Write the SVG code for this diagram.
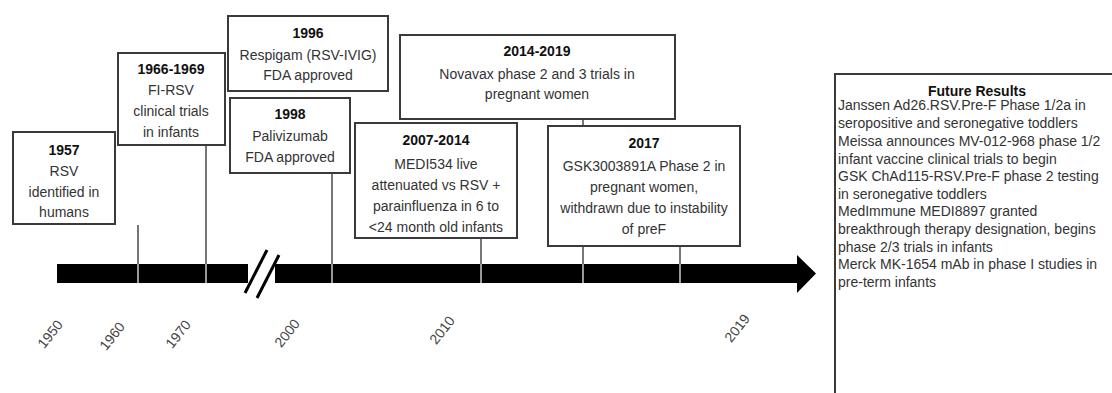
<svg xmlns="http://www.w3.org/2000/svg" width="1112" height="393" viewBox="0 0 1112 393">
<style>
text{font-family:"Liberation Sans",Arial,sans-serif;font-size:14px;fill:#333}
.c{text-anchor:middle}
.b{font-weight:bold;fill:#111}
.box{fill:#fff;stroke:#3a3a3a;stroke-width:2}
.con{stroke:#555;stroke-width:1.6;fill:none}
.sep{stroke:#ccc;stroke-width:1.5}
.yr{text-anchor:middle;fill:#444}
</style>
<rect width="1112" height="393" fill="#fff"/>
<g id="connectors">
<line class="con" x1="138" y1="225" x2="138" y2="265"/>
<line class="con" x1="206" y1="145" x2="206" y2="265"/>
<line class="con" x1="332" y1="173" x2="332" y2="265"/>
<line class="con" x1="481" y1="238" x2="481" y2="265"/>
<line class="con" x1="583" y1="119" x2="583" y2="265"/>
<line class="con" x1="680" y1="246" x2="680" y2="265"/>
</g>
<g id="timeline">
<rect x="57" y="264" width="191" height="19" fill="#000"/>
<polygon points="275,264 797,264 797,255 816,273.5 797,293 797,283 275,283" fill="#000"/>
<line x1="245" y1="293" x2="267" y2="250" stroke="#000" stroke-width="3"/>
<line x1="257" y1="298" x2="279" y2="255" stroke="#000" stroke-width="3"/>
<line class="sep" x1="138" y1="264" x2="138" y2="283"/>
<line class="sep" x1="206" y1="264" x2="206" y2="283"/>
<line class="sep" x1="332" y1="264" x2="332" y2="283"/>
<line class="sep" x1="481" y1="264" x2="481" y2="283"/>
<line class="sep" x1="583" y1="264" x2="583" y2="283"/>
<line class="sep" x1="680" y1="264" x2="680" y2="283"/>
</g>
<g id="axis-labels">
<text class="yr" transform="translate(50,334) rotate(-52)" y="5">1950</text>
<text class="yr" transform="translate(112,336) rotate(-52)" y="5">1960</text>
<text class="yr" transform="translate(178,334) rotate(-52)" y="5">1970</text>
<text class="yr" transform="translate(287,333) rotate(-52)" y="5">2000</text>
<text class="yr" transform="translate(442,330) rotate(-52)" y="5">2010</text>
<text class="yr" transform="translate(737,328) rotate(-52)" y="5">2019</text>
</g>
<g id="n1957">
<rect class="box" x="13" y="132" width="102" height="92"/>
<text class="c b" x="64" y="155">1957</text>
<text class="c" x="64" y="176">RSV</text>
<text class="c" x="64" y="197">identified in</text>
<text class="c" x="64" y="217">humans</text>
</g>
<g id="n1966">
<rect class="box" x="118" y="53" width="107" height="92"/>
<text class="c b" x="171" y="74">1966-1969</text>
<text class="c" x="171" y="95">FI-RSV</text>
<text class="c" x="171" y="116">clinical trials</text>
<text class="c" x="171" y="137">in infants</text>
</g>
<g id="n1996">
<rect class="box" x="228" y="16" width="160" height="75"/>
<text class="c b" x="308" y="38">1996</text>
<text class="c" x="308" y="60">Respigam (RSV-IVIG)</text>
<text class="c" x="308" y="80">FDA approved</text>
</g>
<g id="n1998">
<rect class="box" x="230" y="98" width="120" height="75"/>
<text class="c b" x="290" y="119">1998</text>
<text class="c" x="290" y="141">Palivizumab</text>
<text class="c" x="290" y="162">FDA approved</text>
</g>
<g id="n2014">
<rect class="box" x="400" y="35" width="275" height="84"/>
<text class="c b" x="537" y="56">2014-2019</text>
<text class="c" x="537" y="79">Novavax phase 2 and 3 trials in</text>
<text class="c" x="537" y="99">pregnant women</text>
</g>
<g id="n2007">
<rect class="box" x="355" y="123" width="162" height="115"/>
<text class="c b" x="436" y="145">2007-2014</text>
<text class="c" x="436" y="169">MEDI534 live</text>
<text class="c" x="436" y="190">attenuated vs RSV +</text>
<text class="c" x="436" y="211">parainfluenza in 6 to</text>
<text class="c" x="436" y="232">&lt;24 month old infants</text>
</g>
<g id="n2017">
<rect class="box" x="548" y="126" width="192" height="120"/>
<text class="c b" x="644" y="148">2017</text>
<text class="c" x="644" y="171">GSK3003891A Phase 2 in</text>
<text class="c" x="644" y="192">pregnant women,</text>
<text class="c" x="644" y="213">withdrawn due to instability</text>
<text class="c" x="644" y="234">of preF</text>
</g>
<g id="future">
<rect class="box" x="835" y="74" width="300" height="340"/>
<text class="c b" x="977" y="96">Future Results</text>
<text x="838" y="110">Janssen Ad26.RSV.Pre-F Phase 1/2a in</text>
<text x="838" y="128">seropositive and seronegative toddlers</text>
<text x="838" y="146">Meissa announces MV-012-968 phase 1/2</text>
<text x="838" y="164">infant vaccine clinical trials to begin</text>
<text x="838" y="181">GSK ChAd115-RSV.Pre-F phase 2 testing</text>
<text x="838" y="199">in seronegative toddlers</text>
<text x="838" y="216">MedImmune MEDI8897 granted</text>
<text x="838" y="234">breakthrough therapy designation, begins</text>
<text x="838" y="252">phase 2/3 trials in infants</text>
<text x="838" y="269">Merck MK-1654 mAb in phase I studies in</text>
<text x="838" y="287">pre-term infants</text>
</g>
</svg>
